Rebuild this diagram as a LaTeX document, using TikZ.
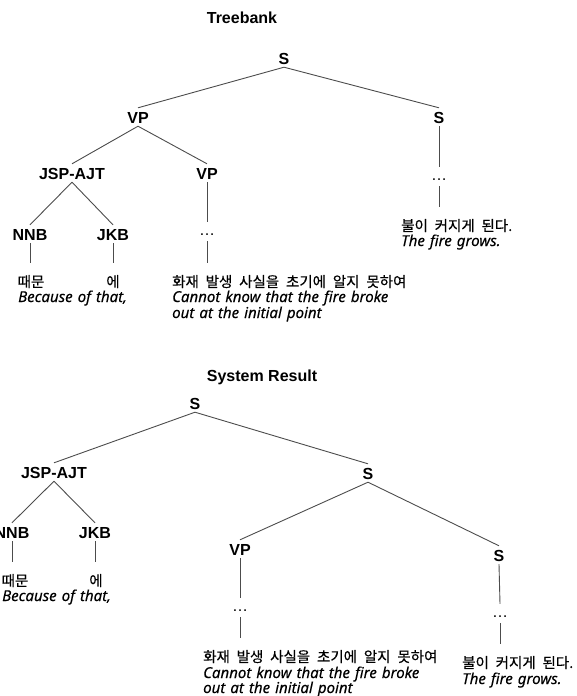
\documentclass[tikz,border=0pt]{standalone}
\usepackage{fontspec}
\setmainfont{Liberation Sans}
\newfontfamily\korfont[WordSpace=2.1,FakeBold=0.4]{Noto Sans CJK KR}
\newfontfamily\glossfont[WordSpace=1.3,FakeBold=0.2]{Noto Sans}
\begin{document}
\begin{tikzpicture}[x=1pt,y=-1pt,
  lbl/.style={font=\fontsize{16}{16}\selectfont\bfseries, text height=12pt, text depth=0pt, inner xsep=1pt, inner ysep=3pt},
  ttl/.style={font=\fontsize{16}{16}\selectfont\bfseries, inner sep=0pt},
  gap/.style={font=\fontsize{16}{16}\selectfont, text height=13pt, text depth=6pt, inner sep=0pt, anchor=base},
  kor/.style={font=\fontsize{14.5}{14.5}\korfont, text height=24pt, text depth=4pt, inner sep=0pt},
  gloss/.style={font=\fontsize{15}{15}\glossfont\itshape, inner sep=0pt, anchor=base west},
  edge/.style={draw=black!70, line width=0.9pt}]
\useasboundingbox (0,0) rectangle (577,696);

% ---------- gold tree ----------
\node[ttl] (t1) at (242,18) {Treebank};
\node[lbl] (s1)   at (284,58)  {S};
\node[lbl] (vp1)  at (138,117) {VP};
\node[lbl] (s2)   at (439,117) {S};
\node[lbl] (jsp1) at (72,173)  {JSP-AJT};
\node[lbl] (vp2)  at (207,173) {VP};
\node[lbl] (nnb1) at (30,234)  {NNB};
\node[lbl] (jkb1) at (113,234) {JKB};
\node[gap] (d1) at (207,235) {…};
\node[gap] (d2) at (439,180) {…};

\node[kor, anchor=base] (w1) at (31,287)  {때문};
\node[kor, anchor=base] (w2) at (113,287) {에};
\node[gloss] (g1) at (18,302) {Because of that,};
\node[kor, anchor=base west] (w3) at (172,287) {화재 발생 사실을 초기에 알지 못하여};
\node[gloss] (g2) at (172,302) {Cannot know that the fire broke};
\node[gloss] (g3) at (172,318) {out at the initial point};
\node[kor, anchor=base west] (w4) at (401,231) {불이 커지게 된다.};
\node[gloss] (g4) at (401,246) {The fire grows.};

\draw[edge] (s1.south) -- (vp1.north);
\draw[edge] (s1.south) -- (s2.north);
\draw[edge] (vp1.south) -- (jsp1.north);
\draw[edge] (vp1.south) -- (vp2.north);
\draw[edge] (jsp1.south) -- (nnb1.north);
\draw[edge] (jsp1.south) -- (jkb1.north);
\draw[edge] (vp2.south) -- (d1.north);
\draw[edge] (s2.south) -- (d2.north);
\draw[edge] (nnb1.south) -- (nnb1.south |- w1.north);
\draw[edge] (jkb1.south) -- (jkb1.south |- w2.north);
\draw[edge] (d1.south) -- (d1.south |- w3.north);
\draw[edge] (d2.south) -- (d2.south |- w4.north);

% ---------- parser output ----------
\node[ttl] (t2) at (262,377) {System Result};
\node[lbl] (s3)   at (195,403) {S};
\node[lbl] (jsp2) at (54,472)  {JSP-AJT};
\node[lbl] (s4)   at (368,473) {S};
\node[lbl] (nnb2) at (12,532)  {NNB};
\node[lbl] (jkb2) at (95,532)  {JKB};
\node[lbl] (vp3)  at (240,549) {VP};
\node[lbl] (s5)   at (499,555) {S};
\node[gap] (d3) at (240,611) {…};
\node[gap] (d4) at (500,617) {…};

\node[kor, anchor=base] (w5) at (15,586) {때문};
\node[kor, anchor=base] (w6) at (96,586) {에};
\node[gloss] (g5) at (2,601) {Because of that,};
\node[kor, anchor=base west] (w7) at (203,662) {화재 발생 사실을 초기에 알지 못하여};
\node[gloss] (g6) at (203,678) {Cannot know that the fire broke};
\node[gloss] (g7) at (203,693) {out at the initial point};
\node[kor, anchor=base west] (w8) at (462,668) {불이 커지게 된다.};
\node[gloss] (g8) at (462,684) {The fire grows.};

\draw[edge] (s3.south) -- (jsp2.north);
\draw[edge] (s3.south) -- (s4.north);
\draw[edge] (jsp2.south) -- (nnb2.north);
\draw[edge] (jsp2.south) -- (jkb2.north);
\draw[edge] (s4.south) -- (vp3.north);
\draw[edge] (s4.south) -- (s5.north);
\draw[edge] (vp3.south) -- (d3.north);
\draw[edge] (s5.south) -- (d4.north);
\draw[edge] (nnb2.south) -- (nnb2.south |- w5.north);
\draw[edge] (jkb2.south) -- (jkb2.south |- w6.north);
\draw[edge] (d3.south) -- (d3.south |- w7.north);
\draw[edge] (d4.south) -- (d4.south |- w8.north);
\end{tikzpicture}
\end{document}
